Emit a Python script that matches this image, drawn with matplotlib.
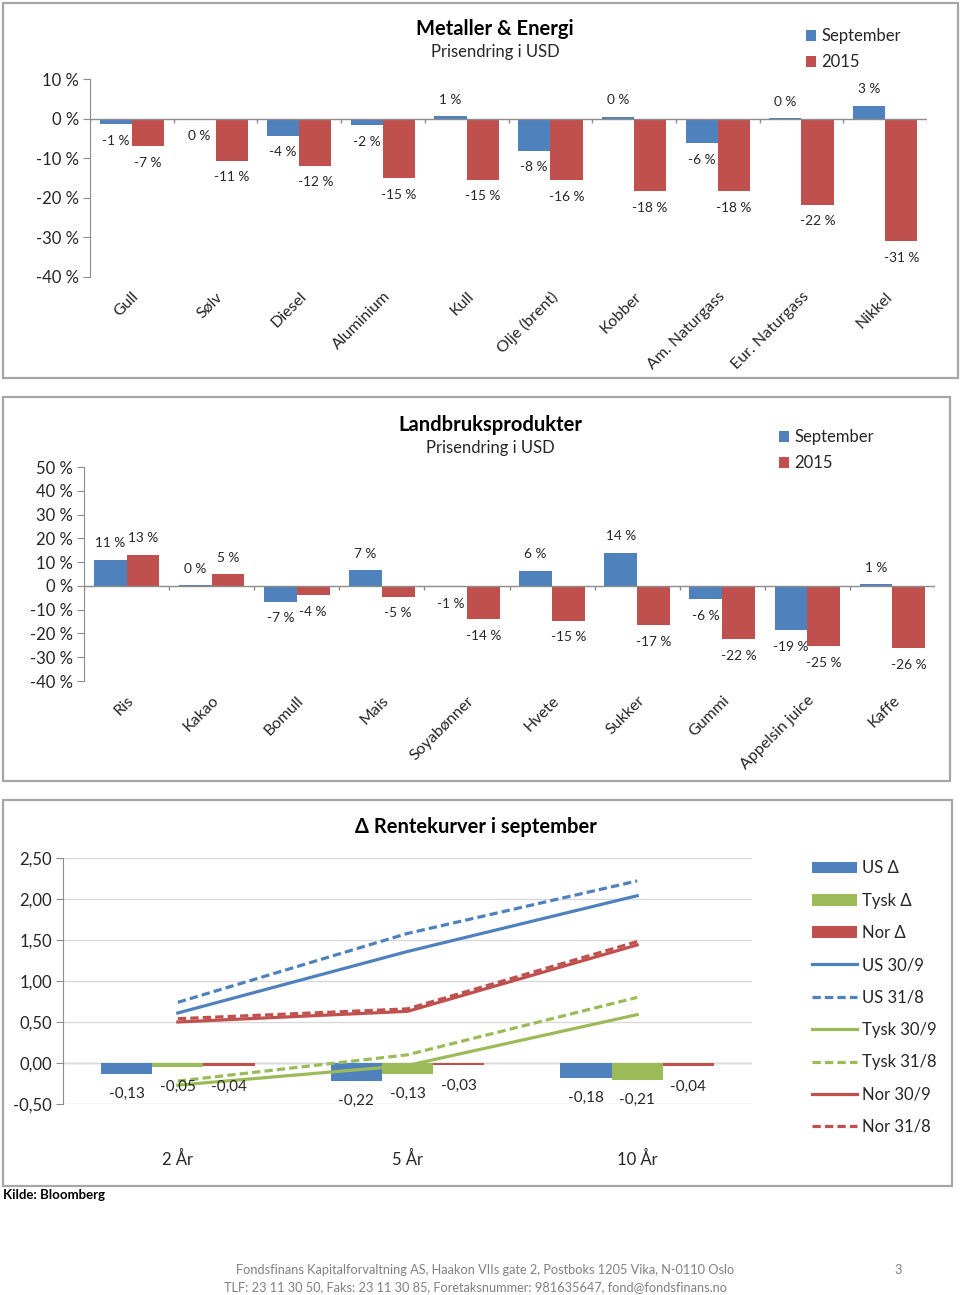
import matplotlib
matplotlib.use('Agg')
import matplotlib.pyplot as plt
import numpy as np
from matplotlib.patches import Rectangle

plt.rcParams['font.family'] = ['Lato', 'DejaVu Sans']

W, H = 960, 1295
BLUE, RED, GREEN = '#4F81BD', '#C0504D', '#9BBB59'
GRAY, TXT = '#8C8C8C', '#262626'

# --- data: Metaller & Energi (% change in USD) ---
metal_cats = ['Gull', 'Sølv', 'Diesel', 'Aluminium', 'Kull', 'Olje (brent)',
              'Kobber', 'Am. Naturgass', 'Eur. Naturgass', 'Nikkel']
metal_sep = [-1.4, -0.3, -4.3, -1.6, 0.6, -8.1, 0.4, -6.2, 0.1, 3.2]
metal_2015 = [-7.0, -10.6, -11.9, -15.1, -15.4, -15.6, -18.4, -18.4, -21.7, -30.9]

# --- data: Landbruksprodukter ---
agri_cats = ['Ris', 'Kakao', 'Bomull', 'Mais', 'Soyabønner', 'Hvete',
             'Sukker', 'Gummi', 'Appelsin juice', 'Kaffe']
agri_sep = [10.9, 0.3, -6.6, 6.6, -0.6, 6.3, 13.9, -5.6, -18.6, 0.6]
agri_2015 = [13.2, 4.8, -3.8, -4.6, -14.0, -14.6, -16.6, -22.3, -25.4, -26.2]

# --- data: Rentekurver ---
rate_cats = ['2 År', '5 År', '10 År']
us_delta = [-0.13, -0.22, -0.18]
tysk_delta = [-0.05, -0.13, -0.21]
nor_delta = [-0.04, -0.03, -0.04]
us_309 = [0.61, 1.36, 2.04]
us_318 = [0.74, 1.58, 2.22]
tysk_309 = [-0.27, -0.03, 0.59]
tysk_318 = [-0.22, 0.10, 0.80]
nor_309 = [0.50, 0.63, 1.44]
nor_318 = [0.54, 0.66, 1.48]


def box(x0, y0, x1, y1):
    return [x0 / W, 1 - y1 / H, (x1 - x0) / W, (y1 - y0) / H]


def fx(x):
    return x / W


def fy(y):
    return 1 - y / H


fig = plt.figure(figsize=(W / 100, H / 100), dpi=100)

# panel borders
for x0, y0, x1, y1 in [(3, 3, 958, 378), (3, 397, 950, 781), (3, 800, 952, 1186)]:
    fig.add_artist(Rectangle((fx(x0), fy(y1)), (x1 - x0) / W, (y1 - y0) / H,
                             transform=fig.transFigure, fill=False,
                             edgecolor='#A6A6A6', lw=1.6))


def bar_panel(rect, cats, sep, y15, ymin, ymax, step, title, sub, tx, ty, lx, ly, px_h):
    ax = fig.add_axes(rect)
    x = np.arange(len(cats))
    w = 0.385
    b1 = ax.bar(x - w / 2, sep, w, color=BLUE, label='September', zorder=2)
    b2 = ax.bar(x + w / 2, y15, w, color=RED, label='2015', zorder=2)
    for bars, vals in ((b1, sep), (b2, y15)):
        for r, v in zip(bars, vals):
            ax.annotate(f'{round(v):.0f} %', (r.get_x() + r.get_width() / 2, v),
                        xytext=(0, 12 if v >= 0 else -12), textcoords='offset points',
                        ha='center', va='center', fontsize=9.8, color=TXT)
    ax.set_xlim(-0.5, len(cats) - 0.5)
    ax.set_ylim(ymin, ymax)
    ax.set_yticks(np.arange(ymin, ymax + 1, step))
    ax.yaxis.set_major_formatter(lambda v, p: f'{v:.0f} %')
    ax.tick_params(axis='y', length=5, color=GRAY, labelsize=12, labelcolor=TXT, pad=3)
    ax.set_xticks(x, cats, rotation=45, ha='right', rotation_mode='anchor')
    ax.tick_params(axis='x', length=0, labelsize=11.5, labelcolor=TXT, pad=9)
    for s in ['top', 'right', 'bottom']:
        ax.spines[s].set_visible(False)
    ax.spines['left'].set_color(GRAY)
    # zero line with category boundary ticks
    ax.axhline(0, color=GRAY, lw=1, zorder=3)
    tl = (ymax - ymin) * 4 / px_h
    ax.vlines(np.arange(len(cats) + 1) - 0.5, -tl, 0, color=GRAY, lw=1, zorder=3)
    fig.text(fx(tx), fy(ty), title, ha='center', va='center', fontsize=14.5,
             fontweight='bold', color='black')
    fig.text(fx(tx), fy(ty + 23), sub, ha='center', va='center', fontsize=12, color=TXT)
    fig.legend(handles=[b1, b2], loc='upper left', bbox_to_anchor=(fx(lx), fy(ly)),
               frameon=False, fontsize=12, handlelength=0.6, handleheight=0.6,
               handletextpad=0.3, labelspacing=0.6, borderpad=0, labelcolor=TXT)
    return ax


bar_panel(box(90, 79, 927, 277), metal_cats, metal_sep, metal_2015, -40, 10, 10,
          'Metaller & Energi', 'Prisendring i USD', 495, 29, 798, 20, 198)
bar_panel(box(84, 467, 935, 681), agri_cats, agri_sep, agri_2015, -40, 50, 10,
          'Landbruksprodukter', 'Prisendring i USD', 490, 425, 771, 421, 214)

# --- Rentekurver panel ---
ax3 = fig.add_axes(box(63, 858, 752, 1104))
x = np.arange(len(rate_cats))
bw = 0.223
handles = []
for off, vals, col, lab in [(-bw, us_delta, BLUE, 'US Δ'), (0, tysk_delta, GREEN, 'Tysk Δ'),
                            (bw, nor_delta, RED, 'Nor Δ')]:
    bars = ax3.bar(x + off, vals, bw, color=col, label=lab, zorder=2)
    handles.append(bars)
    for r, v in zip(bars, vals):
        ax3.annotate(f'{v:.2f}'.replace('.', ','), (r.get_x() + r.get_width() / 2, v),
                     xytext=(0, -14.5), textcoords='offset points', ha='center',
                     va='center', fontsize=11, color=TXT, zorder=5)

dash = (2.6, 1.3)
for vals, col, ls, lab in [(us_309, BLUE, '-', 'US 30/9'), (us_318, BLUE, '--', 'US 31/8'),
                           (tysk_309, GREEN, '-', 'Tysk 30/9'), (tysk_318, GREEN, '--', 'Tysk 31/8'),
                           (nor_309, RED, '-', 'Nor 30/9'), (nor_318, RED, '--', 'Nor 31/8')]:
    line, = ax3.plot(x, vals, color=col, lw=2.3, ls=ls, label=lab, zorder=4)
    if ls == '--':
        line.set_dashes(dash)
    handles.append(line)

ax3.set_xlim(-0.5, 2.5)
ax3.set_ylim(-0.5, 2.5)
ax3.set_yticks(np.arange(-0.5, 2.51, 0.5))
ax3.yaxis.set_major_formatter(lambda v, p: f'{v:.2f}'.replace('.', ','))
ax3.tick_params(axis='y', length=5, color=GRAY, labelsize=12, labelcolor=TXT, pad=3)
ax3.set_xticks(x, rate_cats)
ax3.tick_params(axis='x', length=0, labelsize=12, labelcolor=TXT, pad=33.5)
ax3.grid(axis='y', color='#D9D9D9', lw=1, zorder=0)
ax3.axhline(0, color='#BFBFBF', lw=1, zorder=1)
for s in ['top', 'right', 'bottom']:
    ax3.spines[s].set_visible(False)
ax3.spines['left'].set_color(GRAY)
fig.text(fx(476), fy(827), 'Δ Rentekurver i september', ha='center', va='center',
         fontsize=14.5, fontweight='bold', color='black')
fig.legend(handles=handles, loc='upper left', bbox_to_anchor=(fx(804), fy(852)),
           frameon=False, fontsize=12, handlelength=2.7, handletextpad=0.3,
           labelspacing=0.98, borderpad=0, labelcolor=TXT)

# source and footer
fig.text(fx(3), fy(1195), 'Kilde: Bloomberg', ha='left', va='center', fontsize=9.5,
         fontweight='bold', color='black')
fig.text(fx(485), fy(1270), 'Fondsfinans Kapitalforvaltning AS, Haakon VIIs gate 2, '
         'Postboks 1205 Vika, N-0110 Oslo', ha='center', va='center', fontsize=9.2, color='#808080')
fig.text(fx(476), fy(1287), 'TLF: 23 11 30 50, Faks: 23 11 30 85, Foretaksnummer: '
         '981635647, fond@fondsfinans.no', ha='center', va='center', fontsize=9.2, color='#808080')
fig.text(fx(898), fy(1270), '3', ha='center', va='center', fontsize=9.2, color='#808080')

fig.savefig('out.png', dpi=100, facecolor='white')
